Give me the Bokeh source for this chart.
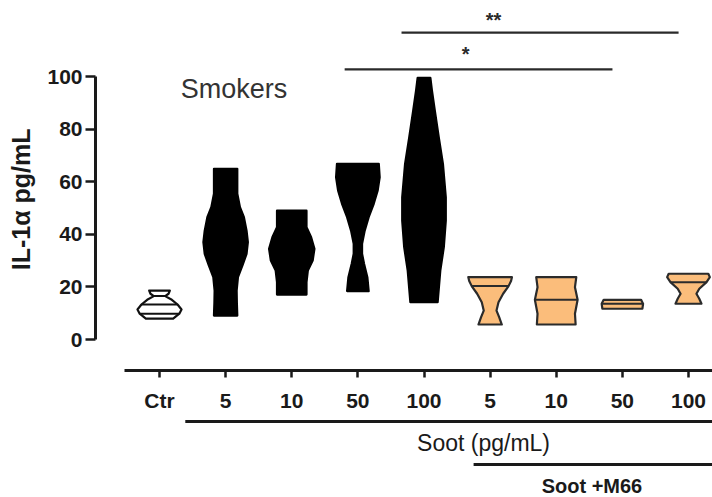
import numpy as np
from bokeh.plotting import figure
from bokeh.layouts import column
from bokeh.models import LinearAxis, FixedTicker, Range1d, Label
from bokeh.core.properties import value
from bokeh.embed import file_html
from bokeh.resources import INLINE

# ---- data -------------------------------------------------------------
groups = ["Ctr", "5", "10", "50", "100", "5", "10", "50", "100"]
treatment = ["ctrl", "soot", "soot", "soot", "soot", "m66", "m66", "m66", "m66"]
y_ticks = [0, 20, 40, 60, 80, 100]

# violin outlines: IL-1a levels (pg/mL, top to bottom) and relative density
ctr_levels = [18.6, 17.4, 16.5, 15.1, 13.3, 11.4, 9.8, 7.9]
ctr_density = [0.47, 0.41, 0.26, 0.56, 0.82, 1.00, 0.90, 0.62]
soot5_levels = [64.9, 55.4, 50.3, 46.5, 41.4, 37.0, 32.6, 28.1, 23.7, 18.6, 14.0, 9.1]
soot5_density = [0.53, 0.53, 0.65, 0.83, 0.95, 1.01, 0.95, 0.76, 0.56, 0.50, 0.51, 0.53]
soot10_levels = [49.0, 42.7, 38.9, 34.5, 30.0, 26.2, 21.8, 17.1]
soot10_density = [0.67, 0.67, 0.88, 1.03, 0.95, 0.73, 0.67, 0.67]
soot50_levels = [66.8, 61.7, 56.7, 51.6, 46.5, 41.4, 36.4, 32.6, 28.8, 23.7, 18.4]
soot50_density = [0.95, 0.99, 0.90, 0.72, 0.49, 0.31, 0.19, 0.19, 0.28, 0.43, 0.49]
soot100_levels = [99.5, 94.7, 87.1, 76.9, 66.8, 54.1, 45.2, 35.1, 26.2, 14.2]
soot100_density = [0.29, 0.36, 0.49, 0.67, 0.86, 0.99, 0.99, 0.90, 0.74, 0.62]
m66_5_levels = [23.7, 22.2, 20.2, 17.4, 14.2, 11.0, 8.5, 5.7]
m66_5_density = [0.99, 0.95, 0.83, 0.59, 0.38, 0.29, 0.41, 0.53]
m66_10_levels = [23.7, 19.9, 15.1, 9.8, 5.7]
m66_10_density = [0.91, 0.85, 0.97, 0.85, 0.88]
m66_50_levels = [15.1, 13.6, 11.7]
m66_50_density = [0.85, 0.94, 0.91]
m66_100_levels = [25.0, 23.7, 21.8, 19.3, 17.4, 15.5, 13.6]
m66_100_density = [0.90, 0.97, 0.82, 0.49, 0.36, 0.49, 0.59]

# median / quartile lines drawn across each violin
ctr_lines = [16.5, 13.3, 9.8]
m66_5_lines = [20.3]
m66_10_lines = [15.1]
m66_50_lines = [13.6]
m66_100_lines = [21.8]

# significance brackets
sig_from = [2.8, 3.66]
sig_to = [6.85, 7.85]
sig_height = [102.7, 116.7]
sig_text = ["*", "**"]
sig_text_x = [4.63, 5.05]
sig_text_y = [108.7, 121.6]

# treatment brackets under the group labels (row 0 = soot, row 1 = soot + M66)
br_from = [0.39, 4.75]
br_row = [0, 1]
br_text = ["Soot (pg/mL)", "Soot +M66"]
br_text_x = [4.9, 6.54]

violins = [
    (ctr_levels, ctr_density, ctr_lines),
    (soot5_levels, soot5_density, []),
    (soot10_levels, soot10_density, []),
    (soot50_levels, soot50_density, []),
    (soot100_levels, soot100_density, []),
    (m66_5_levels, m66_5_density, m66_5_lines),
    (m66_10_levels, m66_10_density, m66_10_lines),
    (m66_50_levels, m66_50_density, m66_50_lines),
    (m66_100_levels, m66_100_density, m66_100_lines),
]

# ---- styling ----------------------------------------------------------
FILL = {"ctrl": "white", "soot": "black", "m66": "#FBBD7B"}
EDGE = {"ctrl": "#111111", "soot": "black", "m66": "#2b2b2b"}
HALF_WIDTH = 0.333          # category units for density 1.0
FONT = "Liberation Sans"
INK = "#1a1a1a"
NBSP = "\u00a0"

X0, X1 = -0.968, 8.363
Y0, Y1 = -11.787, 128.9

p = figure(width=712, height=415, x_range=Range1d(X0, X1), y_range=Range1d(Y0, Y1),
           output_backend="svg", toolbar_location=None,
           x_axis_location=None, y_axis_location=None,
           min_border_left=95, min_border_right=0, min_border_top=0, min_border_bottom=45)
p.outline_line_color = None
p.xgrid.visible = False
p.ygrid.visible = False
p.background_fill_color = "white"
p.border_fill_color = "white"

# y axis restricted to 0..100; trailing no-break spaces centre the title on the 0..100 span
yaxis = LinearAxis(ticker=FixedTicker(ticks=y_ticks), bounds=(0, 100),
                   axis_label="IL-1α pg/mL" + NBSP * 4)
yaxis.axis_line_width = 3
yaxis.axis_line_color = INK
yaxis.major_tick_line_width = 2.5
yaxis.major_tick_line_color = INK
yaxis.major_tick_out = 10
yaxis.major_tick_in = 0
yaxis.minor_tick_out = 0
yaxis.minor_tick_in = 0
yaxis.major_label_standoff = 3
yaxis.major_label_text_font = FONT
yaxis.major_label_text_font_size = "21px"
yaxis.major_label_text_font_style = "bold"
yaxis.major_label_text_color = INK
yaxis.axis_label_text_font = FONT
yaxis.axis_label_text_font_size = "25px"
yaxis.axis_label_text_font_style = "bold"
yaxis.axis_label_text_color = INK
yaxis.axis_label_standoff = 9
p.add_layout(yaxis, "left")

# x axis with group labels
xaxis = LinearAxis(ticker=FixedTicker(ticks=list(range(len(groups)))),
                   bounds=(-0.53, X1),
                   major_label_overrides={i: g for i, g in enumerate(groups)})
xaxis.axis_line_width = 3
xaxis.axis_line_color = INK
xaxis.major_tick_line_width = 2.5
xaxis.major_tick_line_color = INK
xaxis.major_tick_out = 7
xaxis.major_tick_in = 0
xaxis.minor_tick_out = 0
xaxis.minor_tick_in = 0
xaxis.major_label_standoff = 11
xaxis.major_label_text_font = FONT
xaxis.major_label_text_font_size = "21px"
xaxis.major_label_text_font_style = "bold"
xaxis.major_label_text_color = INK
p.add_layout(xaxis, "below")

# violins
for i, ((levels, dens, lines), kind) in enumerate(zip(violins, treatment)):
    lv = np.asarray(levels, dtype=float)
    hw = np.asarray(dens, dtype=float) * HALF_WIDTH
    xs = np.concatenate([i + hw, (i - hw)[::-1]])
    ys = np.concatenate([lv, lv[::-1]])
    p.patch(xs, ys, fill_color=FILL[kind], line_color=EDGE[kind],
            line_width=2.2, line_join="round")
    if lines:
        order = np.argsort(lv)
        lw = np.interp(lines, lv[order], hw[order])
        p.segment(x0=[i - w for w in lw], x1=[i + w for w in lw], y0=lines, y1=lines,
                  line_color=EDGE[kind], line_width=2)

# significance brackets
p.segment(x0=sig_from, x1=sig_to, y0=sig_height, y1=sig_height,
          line_color="#2a2a2a", line_width=2.2)
p.text(x=sig_text_x, y=sig_text_y, text=sig_text, text_align="center",
       text_baseline="alphabetic", text_font=value(FONT), text_font_size="20px",
       text_font_style="bold", text_color="#2a2a2a")

# group title
p.add_layout(Label(x=0.32, y=95.1, text="Smokers", text_font=FONT,
                   text_font_size="27px", text_color="#333333",
                   text_baseline="alphabetic", text_align="left"))

# treatment brackets in a strip under the axis
q = figure(width=712, height=82, x_range=p.x_range, y_range=Range1d(1.767, -0.14),
           output_backend="svg", toolbar_location=None,
           x_axis_location=None, y_axis_location=None,
           min_border_left=95, min_border_right=0, min_border_top=0, min_border_bottom=0)
q.outline_line_color = None
q.xgrid.visible = False
q.ygrid.visible = False
q.background_fill_color = "white"
q.border_fill_color = "white"
q.segment(x0=br_from, x1=[X1 + 0.2] * len(br_from), y0=br_row, y1=br_row,
          line_color=INK, line_width=3)
q.text(x=br_text_x[:1], y=[br_row[0] + 0.49], text=br_text[:1], text_align="center",
       text_baseline="middle", text_font=value(FONT), text_font_size="23px",
       text_color=INK)
q.text(x=br_text_x[1:], y=[br_row[1] + 0.49], text=br_text[1:], text_align="center",
       text_baseline="middle", text_font=value(FONT), text_font_size="20px",
       text_font_style="bold", text_color=INK)

layout = column(p, q, spacing=0)
open("out.html", "w").write(file_html(layout, INLINE))
